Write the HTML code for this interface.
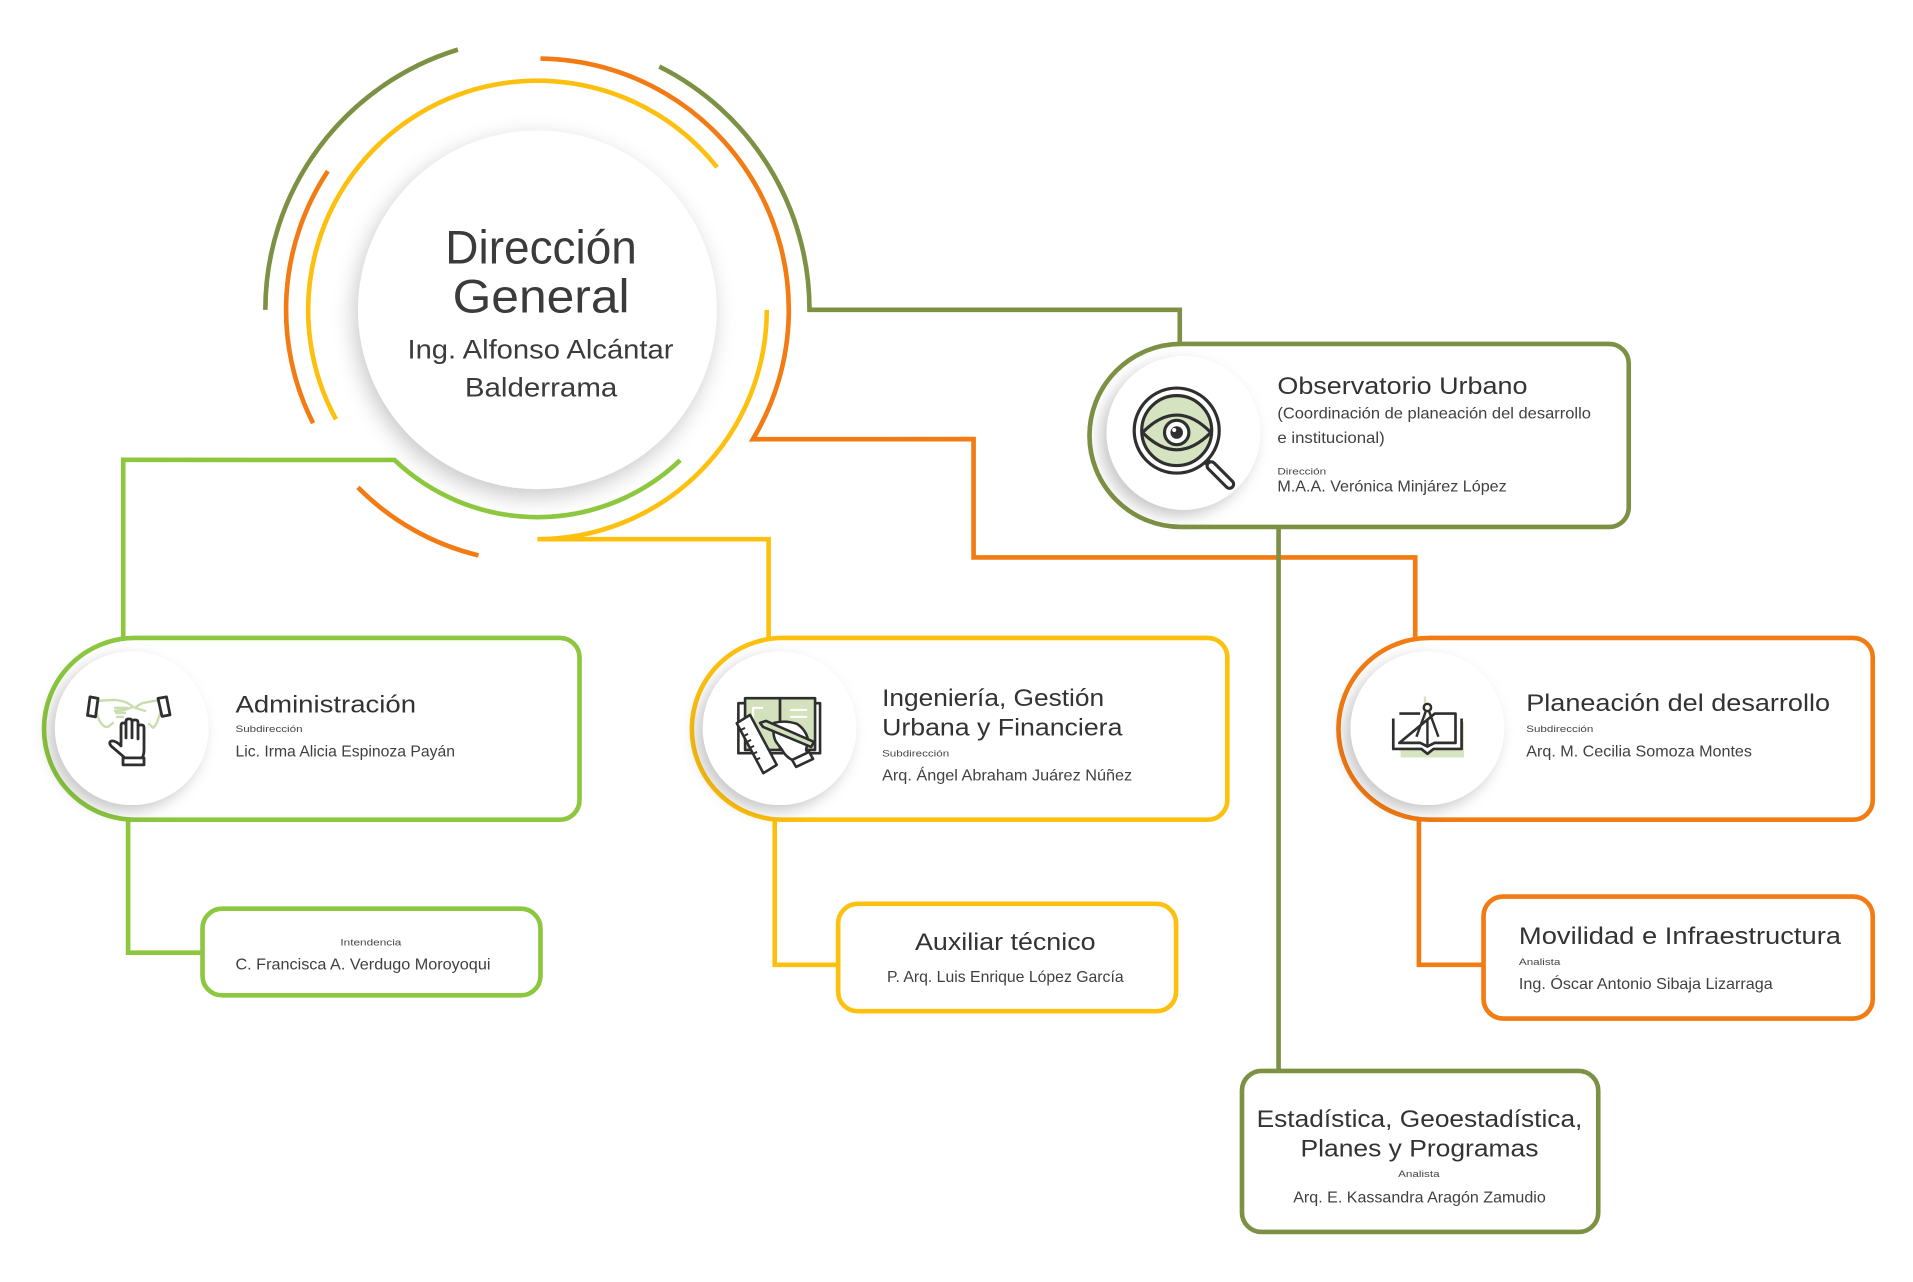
<!DOCTYPE html>
<html><head><meta charset="utf-8">
<style>
html,body{margin:0;padding:0;background:#fff;}
svg{display:block;}
text{font-family:"Liberation Sans",Arial,sans-serif;}
</style></head><body>
<svg width="1913" height="1282" viewBox="0 0 1568 1051" preserveAspectRatio="none" xmlns="http://www.w3.org/2000/svg">
<defs>
<filter id="shm" x="-40%" y="-40%" width="180%" height="180%"><feDropShadow dx="-3" dy="6" stdDeviation="9" flood-color="#000" flood-opacity="0.22"/></filter>
<filter id="shi" x="-40%" y="-40%" width="180%" height="180%"><feDropShadow dx="-5" dy="5" stdDeviation="6" flood-color="#000" flood-opacity="0.22"/></filter>
</defs>
<rect width="1568" height="1051" fill="#fff"/>

<!-- main circle -->
<circle cx="440.5" cy="254" r="147" fill="#fff" filter="url(#shm)"/>

<!-- arcs and connectors -->
<g fill="none" stroke-width="3.8">
<path d="M217.5 254 A223 223 0 0 1 375.3 40.7" stroke="#7d9145"/>
<path d="M540.4 54.6 A223 223 0 0 1 663.5 254 L967 254 L967 282" stroke="#7d9145"/>
<path d="M256.6 346.9 A206 206 0 0 1 268.7 140.3" stroke="#f27b13"/>
<path d="M443 48 A206 206 0 0 1 617.1 360.1 L798 360 L798 457 L1160 457 L1160 523" stroke="#f27b13"/>
<path d="M392.2 455.3 A207 207 0 0 1 293.4 399.6" stroke="#f27b13"/>
<path d="M275.3 343.7 A188 188 0 0 1 587.8 137.2" stroke="#fdc00f"/>
<path d="M628.5 254 A188 188 0 0 1 440.5 442 L630 442 L630 523" stroke="#fdc00f"/>
<path d="M557.5 377.3 A170 170 0 0 1 323.3 377.1 L101 377 L101 523" stroke="#8cc73f"/>
<path d="M1048 432 V878" stroke="#7d9145"/>
<path d="M105 672 V781 H166" stroke="#8cc73f"/>
<path d="M635 672 V791 H687" stroke="#fdc00f"/>
<path d="M1163 672 V791 H1216" stroke="#f27b13"/>
</g>

<!-- main text -->
<g fill="#3b3b3b" text-anchor="middle">
<text x="443.5" y="216" font-size="39" textLength="157" lengthAdjust="spacingAndGlyphs">Dirección</text>
<text x="443.5" y="256" font-size="39" textLength="145" lengthAdjust="spacingAndGlyphs">General</text>
<text x="443" y="294" font-size="22" textLength="218" lengthAdjust="spacingAndGlyphs">Ing. Alfonso Alcántar</text>
<text x="443.5" y="325" font-size="22" textLength="125" lengthAdjust="spacingAndGlyphs">Balderrama</text>
</g>

<!-- boxes -->
<g fill="#fff" stroke-width="3.8">
<path d="M968 282 H1319 A16 16 0 0 1 1335 298 V416 A16 16 0 0 1 1319 432 H968 A75 75 0 0 1 968 282 Z" stroke="#7d9145"/>
<path d="M110.5 523 H459 A16 16 0 0 1 475 539 V656 A16 16 0 0 1 459 672 H110.5 A74.5 74.5 0 0 1 110.5 523 Z" stroke="#8cc73f"/>
<path d="M641.5 523 H990 A16 16 0 0 1 1006 539 V656 A16 16 0 0 1 990 672 H641.5 A74.5 74.5 0 0 1 641.5 523 Z" stroke="#fdc00f"/>
<path d="M1171.5 523 H1519 A16 16 0 0 1 1535 539 V656 A16 16 0 0 1 1519 672 H1171.5 A74.5 74.5 0 0 1 1171.5 523 Z" stroke="#f27b13"/>
<rect x="166" y="745" width="277" height="71" rx="16" stroke="#8cc73f"/>
<rect x="687" y="741" width="277" height="88" rx="16" stroke="#fdc00f"/>
<rect x="1216" y="735" width="319" height="100" rx="16" stroke="#f27b13"/>
<rect x="1018" y="878" width="292" height="132" rx="16" stroke="#7d9145"/>
</g>

<!-- icon circles -->
<g fill="#fff" filter="url(#shi)">
<circle cx="970" cy="355" r="63"/>
<circle cx="108" cy="597" r="63"/>
<circle cx="639" cy="597" r="63"/>
<circle cx="1170" cy="597" r="63"/>
</g>

<!-- eye / magnifier icon -->
<g transform="translate(916.2 306.3) scale(0.934)" stroke="#2f2f2f" stroke-width="2.8">
<line x1="76" y1="75" x2="82" y2="81" stroke-width="6"/>
<line x1="82" y1="81" x2="98" y2="97" stroke-width="10" stroke-linecap="round"/>
<line x1="82" y1="81" x2="98" y2="97" stroke="#fff" stroke-width="4.5" stroke-linecap="round"/>
<circle cx="51.7" cy="50" r="37.3" fill="#fff"/>
<circle cx="51.7" cy="50" r="30.7" fill="#d6e3c1"/>
<path d="M21.7 51.7 Q51.7 21 81.7 51.7 Q51.7 82 21.7 51.7 Z" fill="#d6e3c1"/>
<circle cx="51.7" cy="51.7" r="10.7" fill="#fff"/>
<circle cx="51.7" cy="51.7" r="5.5" fill="#2f2f2f" stroke="none"/>
<circle cx="49.5" cy="49.5" r="1.8" fill="#fff" stroke="none"/>
</g>

<!-- admin hands icon -->
<g transform="translate(61.48 557.38) scale(0.8197)" fill="none" stroke-linejoin="round" stroke-linecap="round">
<g stroke="#c9ddb0" stroke-width="2.4">
<path d="M22 21 L40 20 Q52 21 58 27 L50 30 L40 31"/>
<path d="M22 34 Q26 48 33 47 L38 43"/>
<path d="M40 28 L52 28 M41 33 L50 33 M42 37 L48 37"/>
<path d="M85 20 L68 23 Q62 26 60 28 L70 31"/>
<path d="M85 33 Q82 45 78 48 L74 44"/>
</g>
<g stroke="#2f2f2f" stroke-width="2.8">
<path d="M15 17 L23 18.5 L20.5 37 L12.5 35.5 Z" fill="#fff"/>
<path d="M83 18.5 L91.5 17 L95 35 L87 36.5 Z" fill="#fff"/>
<path d="M50 78 L36 66 Q33 62 37 61 Q41 61 46 66 L46 46 Q46 43 48.5 43 Q51 43 51 46 L51 58 L51 41.5 Q51 39 54 39 Q57 39 57 41.5 L57 58 L57 42.5 Q57 40 60 40 Q63 40 63 42.5 L63 59 L63 47.5 Q63 45 66 45 Q69 45 69 47.5 L69 70 Q69 75 67 78 Z" fill="#fff"/>
<rect x="48" y="78" width="21" height="7" fill="#fff"/>
</g>
</g>

<!-- ingenieria icon -->
<g transform="translate(598.4 565.6) scale(0.8197)" stroke="#2f2f2f" stroke-width="2.6" stroke-linejoin="round">
<rect x="8.3" y="13.3" width="81.7" height="50" fill="#fff"/>
<rect x="15" y="8.3" width="35" height="51.7" fill="#d3e2bd"/>
<rect x="50" y="8.3" width="35" height="51.7" fill="#d3e2bd"/>
<path d="M60 20 H77 M60 27 H77" stroke="#fff" stroke-width="2"/>
<path d="M33 18 H23 V30" stroke="#fff" stroke-width="2" fill="none"/>
<path d="M6.7 33.3 L20 25 L46.7 75 L33.3 83.3 Z" fill="#fff"/>
<path d="M11 40 L15 38 M14 46 L18 44 M17 52 L21 50 M20 58 L24 56 M23 64 L27 62 M26 70 L30 68" stroke-width="2"/>
<path d="M44 33 Q55 30 67 34 Q76 40 78 50 L76 60 L78 64 L66 72 L62 70 Q55 66 52 60 L46 52 Q42 45 44 33 Z" fill="#fff"/>
<path d="M62 70 L79 62 L83 69 L66 77 Z" fill="#fff"/>
<path d="M30 33 L36 31 L84 52 L81 57 L33 37 Z" fill="#d3e2bd"/>
</g>

<!-- planeacion icon -->
<g stroke-linejoin="round">
<path d="M1168 571 V598 M1158 594 H1180" stroke="#d6e4c0" stroke-width="2"/>
<rect x="1148" y="592" width="52" height="29" fill="#d6e4c0"/>
<path d="M1142 589 V614 H1165 L1170 618 L1175 614 H1198 V589" fill="#fff" stroke="#2f2f2f" stroke-width="2.2"/>
<path d="M1147 585 H1164 M1176 585 H1193 V609 H1176 L1170 612 L1164 609 H1147 Z" fill="#fff" stroke="#2f2f2f" stroke-width="2.2"/>
<path d="M1170 590 V612" stroke="#2f2f2f" stroke-width="2"/>
<path d="M1168.7 583 L1161 604 M1171.3 583 L1179 604" stroke="#2f2f2f" stroke-width="2" fill="none"/>
<circle cx="1170" cy="580" r="3" fill="#fff" stroke="#2f2f2f" stroke-width="2"/>
</g>

<!-- box texts -->
<g fill="#333">
<text x="1047" y="323" font-size="20" textLength="205" lengthAdjust="spacingAndGlyphs">Observatorio Urbano</text>
<text x="1047" y="343" font-size="12.5" fill="#404040" textLength="257" lengthAdjust="spacingAndGlyphs">(Coordinación de planeación del desarrollo</text>
<text x="1047" y="363" font-size="12.5" fill="#404040" textLength="88" lengthAdjust="spacingAndGlyphs">e institucional)</text>
<text x="1047" y="389" font-size="7.5" fill="#444" textLength="40" lengthAdjust="spacingAndGlyphs">Dirección</text>
<text x="1047" y="403" font-size="13" fill="#404040" textLength="188" lengthAdjust="spacingAndGlyphs">M.A.A. Verónica Minjárez López</text>

<text x="193" y="584" font-size="20" textLength="148" lengthAdjust="spacingAndGlyphs">Administración</text>
<text x="193" y="600" font-size="7.5" fill="#444" textLength="55" lengthAdjust="spacingAndGlyphs">Subdirección</text>
<text x="193" y="620" font-size="13" fill="#404040" textLength="180" lengthAdjust="spacingAndGlyphs">Lic. Irma Alicia Espinoza Payán</text>

<text x="304" y="775" font-size="7.5" fill="#444" text-anchor="middle" textLength="50" lengthAdjust="spacingAndGlyphs">Intendencia</text>
<text x="193" y="795" font-size="13" fill="#404040" textLength="209" lengthAdjust="spacingAndGlyphs">C. Francisca A. Verdugo Moroyoqui</text>

<text x="723" y="579" font-size="20" textLength="182" lengthAdjust="spacingAndGlyphs">Ingeniería, Gestión</text>
<text x="723" y="603" font-size="20" textLength="197" lengthAdjust="spacingAndGlyphs">Urbana y Financiera</text>
<text x="723" y="620" font-size="7.5" fill="#444" textLength="55" lengthAdjust="spacingAndGlyphs">Subdirección</text>
<text x="723" y="640" font-size="13" fill="#404040" textLength="205" lengthAdjust="spacingAndGlyphs">Arq. Ángel Abraham Juárez Núñez</text>

<text x="824" y="779" font-size="20" text-anchor="middle" textLength="148" lengthAdjust="spacingAndGlyphs">Auxiliar técnico</text>
<text x="824" y="805" font-size="13" fill="#404040" text-anchor="middle" textLength="194" lengthAdjust="spacingAndGlyphs">P. Arq. Luis Enrique López García</text>

<text x="1251" y="583" font-size="20" textLength="249" lengthAdjust="spacingAndGlyphs">Planeación del desarrollo</text>
<text x="1251" y="600" font-size="7.5" fill="#444" textLength="55" lengthAdjust="spacingAndGlyphs">Subdirección</text>
<text x="1251" y="620" font-size="13" fill="#404040" textLength="185" lengthAdjust="spacingAndGlyphs">Arq. M. Cecilia Somoza Montes</text>

<text x="1245" y="774" font-size="20" textLength="264" lengthAdjust="spacingAndGlyphs">Movilidad e Infraestructura</text>
<text x="1245" y="791" font-size="7.5" fill="#444" textLength="34" lengthAdjust="spacingAndGlyphs">Analista</text>
<text x="1245" y="811" font-size="13" fill="#404040" textLength="208" lengthAdjust="spacingAndGlyphs">Ing. Óscar Antonio Sibaja Lizarraga</text>

<text x="1163.5" y="924" font-size="20" text-anchor="middle" textLength="267" lengthAdjust="spacingAndGlyphs">Estadística, Geoestadística,</text>
<text x="1163.5" y="948" font-size="20" text-anchor="middle" textLength="195" lengthAdjust="spacingAndGlyphs">Planes y Programas</text>
<text x="1163" y="965" font-size="7.5" fill="#444" text-anchor="middle" textLength="34" lengthAdjust="spacingAndGlyphs">Analista</text>
<text x="1163.5" y="986" font-size="13" fill="#404040" text-anchor="middle" textLength="207" lengthAdjust="spacingAndGlyphs">Arq. E. Kassandra Aragón Zamudio</text>
</g>
</svg>
</body></html>
